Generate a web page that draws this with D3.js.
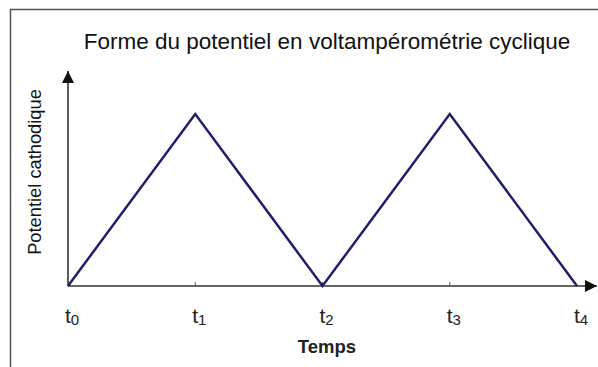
<!DOCTYPE html>
<html><head><meta charset="utf-8">
<script src="https://cdn.jsdelivr.net/npm/d3@7"></script>
<style>body{margin:0;background:#fff}svg{display:block}</style>
</head><body>
<svg id="c" width="598" height="367"></svg>
<script>
const times = [0, 1, 2, 3, 4];
const tickSubs = ["0", "1", "2", "3", "4"];
const potential = [0, 1, 0, 1, 0];
const title = "Forme du potentiel en voltampérométrie cyclique";
const yLabel = "Potentiel cathodique";
const xLabel = "Temps";

const svg = d3.select("#c");
const font = "'Liberation Sans', Arial, sans-serif";

// frame
svg.append("path").attr("d", "M10.5,367 L10.5,9.5 L598,9.5")
  .attr("fill", "none").attr("stroke", "#555").attr("stroke-width", 1.5);

const x = d3.scaleLinear().domain([0, 4]).range([68, 577]);
const y = d3.scaleLinear().domain([0, 1]).range([286, 114]);

const defs = svg.append("defs");
defs.append("marker").attr("id", "arr").attr("viewBox", "0 0 10 10")
  .attr("refX", 10).attr("refY", 5).attr("markerWidth", 12).attr("markerHeight", 12)
  .attr("markerUnits", "userSpaceOnUse").attr("orient", "auto")
  .append("path").attr("d", "M0,0 L10,5 L0,10 Z").attr("fill", "#111");

// axes
svg.append("line").attr("x1", x(0)).attr("y1", y(0)).attr("x2", 597).attr("y2", y(0))
  .attr("stroke", "#333").attr("stroke-width", 1.6).attr("marker-end", "url(#arr)");
svg.append("line").attr("x1", x(0)).attr("y1", y(0)).attr("x2", x(0)).attr("y2", 71)
  .attr("stroke", "#333").attr("stroke-width", 1.6).attr("marker-end", "url(#arr)");

// small ticks
svg.selectAll(".tk").data(times.filter((d, i) => i > 0 && i < 4)).enter().append("line")
  .attr("x1", d => x(d)).attr("x2", d => x(d)).attr("y1", y(0) - 4).attr("y2", y(0))
  .attr("stroke", "#555").attr("stroke-width", 1);

// triangle line
const line = d3.line().x((d, i) => x(times[i])).y(d => y(d));
svg.append("path").datum(potential).attr("d", line)
  .attr("fill", "none").attr("stroke", "#1f1f6b").attr("stroke-width", 2.5)
  .attr("stroke-linejoin", "miter");

// tick labels
const tl = svg.selectAll(".tl").data(times).enter().append("text")
  .attr("x", d => x(d) - 3).attr("y", 323)
  .attr("font-family", font).attr("font-size", 21).attr("fill", "#222");
tl.append("tspan").text("t");
tl.append("tspan").attr("font-size", 15).attr("dy", 2).text((d, i) => tickSubs[i]);

// title
svg.append("text").attr("x", 327).attr("y", 49).attr("text-anchor", "middle")
  .attr("font-family", font).attr("font-size", 22.5).attr("fill", "#111").text(title);

// y label
svg.append("text").attr("transform", "translate(41,172) rotate(-90)")
  .attr("text-anchor", "middle").attr("font-family", font).attr("font-size", 18.3)
  .attr("fill", "#111").text(yLabel);

// x label
svg.append("text").attr("x", 327).attr("y", 353).attr("text-anchor", "middle")
  .attr("font-family", font).attr("font-size", 18.5).attr("font-weight", "bold")
  .attr("fill", "#222").text(xLabel);
</script>
</body></html>
